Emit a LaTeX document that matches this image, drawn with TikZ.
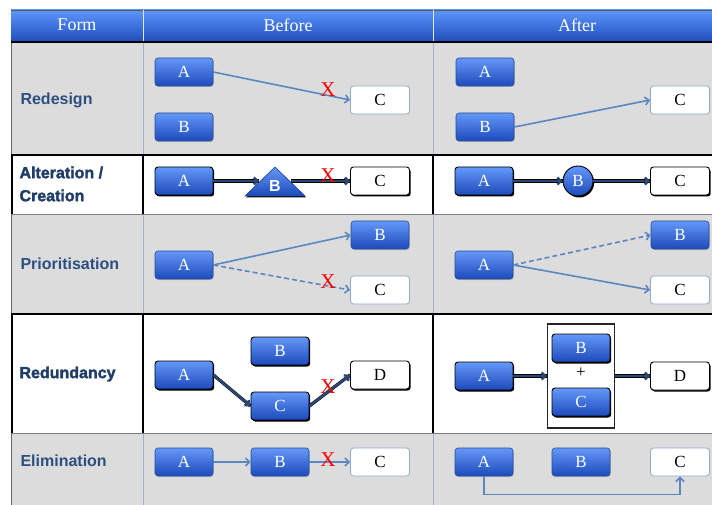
\documentclass[tikz,border=0pt]{standalone}
\usepackage{fontspec}
\setmainfont{Liberation Serif}
\newfontfamily\labelfont{Liberation Sans}
\newfontfamily\heavylabelfont[FakeBold=2]{Liberation Sans}
\usetikzlibrary{arrows.meta,shadows}

\definecolor{hdrtop}{HTML}{5E96FB}
\definecolor{hdrbot}{HTML}{1E4DBB}
\definecolor{celgrey}{HTML}{DCDCDC}
\definecolor{boxtop}{HTML}{6498F8}
\definecolor{boxbot}{HTML}{1C4ABB}
\definecolor{boxline}{HTML}{2A4B95}
\definecolor{flow}{HTML}{5B87C1}
\definecolor{heavyflow}{HTML}{2C4872}
\definecolor{labelblue}{HTML}{2D4F80}
\definecolor{heavylabel}{HTML}{203D68}
\definecolor{gridblue}{HTML}{9DB2CE}
\definecolor{wboxline}{HTML}{8FAACC}

\tikzset{
  hdrtext/.style={text=white, font=\fontsize{18}{18}\selectfont},
  rowlabel/.style={anchor=west, align=left, text=labelblue,
    font=\labelfont\bfseries\fontsize{16}{19}\selectfont},
  heavyrowlabel/.style={anchor=west, align=left, text=heavylabel,
    font=\heavylabelfont\bfseries\fontsize{16}{23}\selectfont},
  procbox/.style={rounded corners=3pt, draw=boxline, line width=0.6pt,
    top color=boxtop, bottom color=boxbot, minimum width=58pt,
    minimum height=28pt, inner sep=0pt, text=white,
    font=\fontsize{17}{17}\selectfont,
    drop shadow={shadow xshift=0.8pt, shadow yshift=-1pt, opacity=0.35}},
  heavyproc/.style={procbox, draw=black, line width=0.9pt,
    drop shadow={shadow xshift=1.2pt, shadow yshift=-1.5pt, opacity=1, fill=black}},
  endbox/.style={rounded corners=3pt, draw=wboxline, line width=0.8pt,
    fill=white, minimum width=59pt, minimum height=28pt, inner sep=0pt,
    text=black, font=\fontsize{17}{17}\selectfont},
  heavyend/.style={endbox, draw=black, line width=0.9pt,
    drop shadow={shadow xshift=1.2pt, shadow yshift=-1.5pt, opacity=1, fill=black}},
  flowarrow/.style={draw=flow, line width=1.6pt,
    -{Straight Barb[length=4pt,width=8pt]}},
  heavyarrow/.style={draw=heavyflow, line width=2.4pt,
    preaction={draw=black, line width=3.2pt, -{}},
    -{Straight Barb[length=3.5pt,width=7pt]}},
  xmark/.style={text=red, inner sep=0pt, font=\fontsize{21}{21}\selectfont},
  cellline/.style={draw=black, line width=2pt},
}

\begin{document}
\begin{tikzpicture}[x=1pt,y=-1pt]
\useasboundingbox (0,0) rectangle (712,505);
\fill[white] (0,0) rectangle (712,505);

% header band
\shade[top color=hdrtop, bottom color=hdrbot] (11,10) rectangle (716,42);
\draw[gray!70!black, line width=0.8pt] (11,10) -- (716,10);
\draw[white!70!gridblue, line width=0.8pt] (143,10) -- (143,42) (433,10) -- (433,42);
\node[hdrtext] (hForm) at (77,25) {Form};
\node[hdrtext] (hBefore) at (288,25) {Before};
\node[hdrtext] (hAfter) at (577,25) {After};

% row backgrounds
\fill[celgrey] (11,42) rectangle (716,155);
\fill[celgrey] (11,214) rectangle (716,314);
\fill[celgrey] (11,433) rectangle (716,510);

% grid of the grey rows
\draw[gridblue, line width=0.9pt] (143,42) -- (143,155) (433,42) -- (433,155);
\draw[gridblue, line width=0.9pt] (143,214) -- (143,314) (433,214) -- (433,314);
\draw[gridblue, line width=0.9pt] (143,433) -- (143,510) (433,433) -- (433,510);
\draw[gray!80!black, line width=0.9pt] (11,42) -- (11,510);
\draw[gray, line width=0.8pt] (11,214) -- (716,214) (11,433) -- (716,433);
\draw[black, line width=1.6pt] (11,42) -- (716,42);

% borders of the white rows
\draw[cellline] (12,214) -- (12,155) -- (716,155) (143,155) -- (143,214) (433,155) -- (433,214);
\draw[cellline] (12,433) -- (12,314) -- (716,314) (143,314) -- (143,433) (433,314) -- (433,433);

% row labels
\node[rowlabel] (lRedesign) at (17,100) {Redesign};
\node[heavyrowlabel] (lAlteration) at (16,184) {Alteration /\\Creation};
\node[rowlabel] (lPrior) at (17,264) {Prioritisation};
\node[heavyrowlabel] (lRedund) at (16,374) {Redundancy};
\node[rowlabel] (lElim) at (17,461) {Elimination};

% ---- Redesign
\node[procbox] (rdA) at (184,72) {A};
\node[procbox] (rdB) at (184,127) {B};
\node[endbox] (rdC) at (380,100) {C};
\draw[flowarrow] (rdA.east) -- (rdC.west);
\node[xmark] (rdX) at (328,90) {X};
\node[procbox] (raA) at (485,72) {A};
\node[procbox] (raB) at (485,127) {B};
\node[endbox] (raC) at (680,100) {C};
\draw[flowarrow] (raB.east) -- (raC.west);

% ---- Alteration / Creation
\node[heavyproc] (abA) at (184,181) {A};
\node[heavyend] (abC) at (380,181) {C};
\coordinate (abBin) at (259,181);
\coordinate (abBout) at (291,181);
\draw[heavyarrow] (abBout) -- (abC.west);
\fill[drop shadow={shadow xshift=1.2pt, shadow yshift=-1.5pt, opacity=1, fill=black},
      top color=boxtop, bottom color=boxbot, draw=boxline, line width=0.6pt]
  (245,196) -- (275,167) -- (305,196) -- cycle;
\node[text=white, font=\labelfont\bfseries\fontsize{16}{16}\selectfont] (abB) at (275,186) {B};
\draw[heavyarrow] (abA.east) -- (abBin);
\node[xmark] (abX) at (328,176) {X};
\node[heavyproc] (aaA) at (484,181) {A};
\node[heavyproc, circle, minimum size=30pt, rounded corners=0pt] (aaB) at (578,181) {B};
\node[heavyend] (aaC) at (680,181) {C};
\draw[heavyarrow] (aaA.east) -- (aaB.west);
\draw[heavyarrow] (aaB.east) -- (aaC.west);

% ---- Prioritisation
\node[procbox] (pbA) at (184,265) {A};
\node[procbox] (pbB) at (380,235) {B};
\node[endbox] (pbC) at (380,290) {C};
\draw[flowarrow] (pbA.east) -- (pbB.west);
\draw[flowarrow, dashed, dash pattern=on 5pt off 3pt] (pbA.east) -- (pbC.west);
\node[xmark] (pbX) at (328,282) {X};
\node[procbox] (paA) at (484,265) {A};
\node[procbox] (paB) at (680,235) {B};
\node[endbox] (paC) at (680,290) {C};
\draw[flowarrow, dashed, dash pattern=on 5pt off 3pt] (paA.east) -- (paB.west);
\draw[flowarrow] (paA.east) -- (paC.west);

% ---- Redundancy
\node[heavyproc] (ybA) at (184,375) {A};
\node[heavyproc] (ybB) at (280,351) {B};
\node[heavyproc] (ybC) at (280,406) {C};
\node[heavyend] (ybD) at (380,375) {D};
\draw[heavyarrow] (ybA.east) -- (ybC.west);
\draw[heavyarrow] (ybC.east) -- (ybD.west);
\node[xmark] (ybX) at (328,387) {X};
\node[heavyproc] (yaA) at (484,376) {A};
\node[draw=black!85, line width=1.4pt, fill=white, minimum width=67pt,
      minimum height=104pt, inner sep=0pt] (yaBox) at (581,376) {};
\node[heavyproc] (yaB) at (581,348) {B};
\node[font=\fontsize{17}{17}\selectfont] (yaPlus) at (581,373) {+};
\node[heavyproc] (yaC) at (581,402) {C};
\node[heavyend] (yaD) at (680,376) {D};
\draw[heavyarrow] (yaA.east) -- (yaBox.west);
\draw[heavyarrow] (yaBox.east) -- (yaD.west);

% ---- Elimination
\node[procbox] (ebA) at (184,462) {A};
\node[procbox] (ebB) at (280,462) {B};
\node[endbox] (ebC) at (380,462) {C};
\draw[flowarrow] (ebA.east) -- (ebB.west);
\draw[flowarrow] (ebB.east) -- (ebC.west);
\node[xmark] (ebX) at (328,460) {X};
\node[procbox] (eaA) at (484,462) {A};
\node[procbox] (eaB) at (581,462) {B};
\node[endbox] (eaC) at (680,462) {C};
\draw[flowarrow] (eaA.south) -- +(0,18) -| (eaC.south);
\end{tikzpicture}
\end{document}
